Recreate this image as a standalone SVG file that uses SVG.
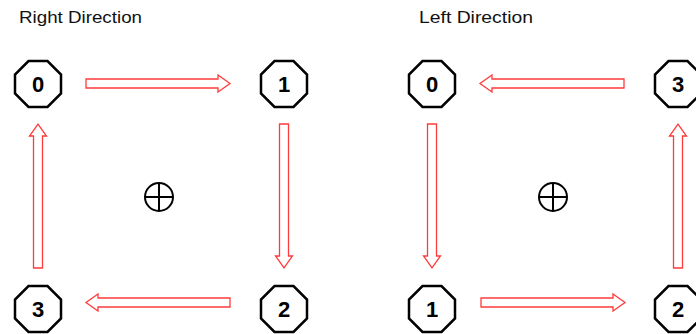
<svg xmlns="http://www.w3.org/2000/svg" width="696" height="334" viewBox="0 0 696 334">
<style>
.title{font-family:"Liberation Sans",Arial,sans-serif;font-size:17px;fill:#111}
.oct{fill:#fff;stroke:#000;stroke-width:2.5;stroke-linejoin:miter}
.num{font-family:"Liberation Sans",Arial,sans-serif;font-size:22px;font-weight:bold;text-anchor:middle;fill:#000}
.arr{fill:#fff;stroke:#ff3b3b;stroke-width:1.3}
.cp{fill:none;stroke:#000;stroke-width:2}
</style>
<defs>
<polygon id="octShape" class="oct" points="-9.5,-23 9.5,-23 23,-9.5 23,9.5 9.5,23 -9.5,23 -23,9.5 -23,-9.5"/>
<polygon id="arrR" class="arr" points="0,-4.5 132,-4.5 132,-8.5 144,0 132,8.5 132,4.5 0,4.5"/>
<polygon id="arrD" class="arr" points="-4.5,0 4.5,0 4.5,132 8.5,132 0,144 -8.5,132 -4.5,132"/>
<g id="cplus"><circle class="cp" cx="0" cy="0" r="14"/><line class="cp" x1="-14" y1="0" x2="14" y2="0"/><line class="cp" x1="0" y1="-14" x2="0" y2="14"/></g>
</defs>
<text class="title" x="19" y="23" textLength="123" lengthAdjust="spacingAndGlyphs">Right Direction</text>
<text class="title" x="419" y="23" textLength="114" lengthAdjust="spacingAndGlyphs">Left Direction</text>
<g id="connectors">
<use href="#arrR" transform="translate(86,83.5)"/>
<use href="#arrD" transform="translate(284,124)"/>
<use href="#arrR" transform="translate(230,302.5) scale(-1,1)"/>
<use href="#arrD" transform="translate(38,268) scale(1,-1)"/>
<use href="#arrR" transform="translate(624,83.5) scale(-1,1)"/>
<use href="#arrD" transform="translate(432,124)"/>
<use href="#arrR" transform="translate(481,302.5)"/>
<use href="#arrD" transform="translate(678,268) scale(1,-1)"/>
</g>
<g id="R0"><use href="#octShape" x="38" y="84"/><text class="num" x="38" y="92">0</text></g>
<g id="R1"><use href="#octShape" x="284" y="84"/><text class="num" x="284" y="92">1</text></g>
<g id="R2"><use href="#octShape" x="284" y="309"/><text class="num" x="284" y="317">2</text></g>
<g id="R3"><use href="#octShape" x="38" y="309"/><text class="num" x="38" y="317">3</text></g>
<g id="RC"><use href="#cplus" x="159" y="197"/></g>
<g id="L0"><use href="#octShape" x="432" y="84"/><text class="num" x="432" y="92">0</text></g>
<g id="L3"><use href="#octShape" x="678" y="84"/><text class="num" x="678" y="92">3</text></g>
<g id="L2"><use href="#octShape" x="678" y="309"/><text class="num" x="678" y="317">2</text></g>
<g id="L1"><use href="#octShape" x="432" y="309"/><text class="num" x="432" y="317">1</text></g>
<g id="LC"><use href="#cplus" x="553" y="197"/></g>
</svg>
